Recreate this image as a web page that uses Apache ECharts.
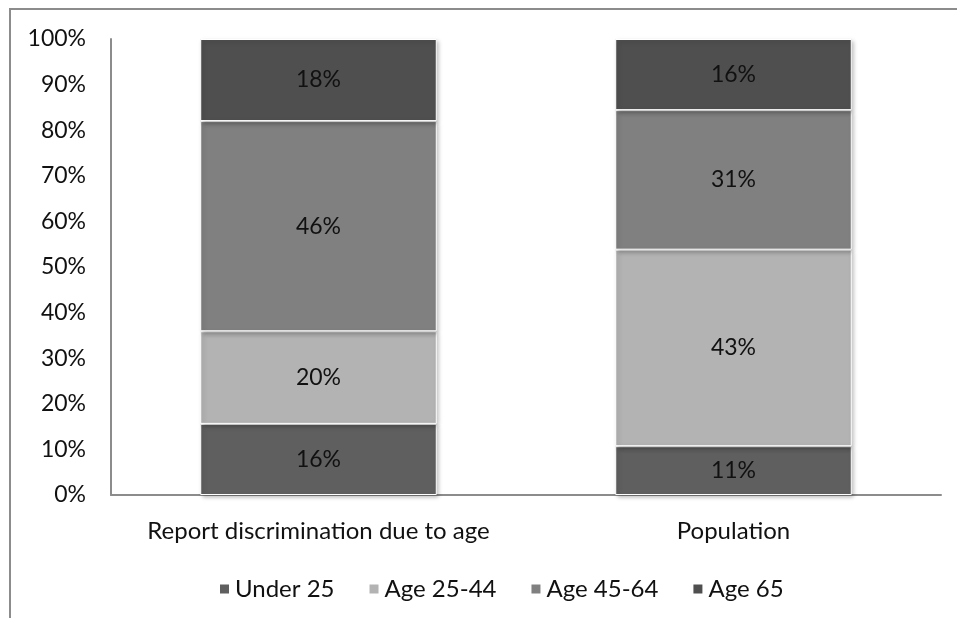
<!DOCTYPE html>
<html>
<head>
<meta charset="utf-8">
<script src="https://cdn.jsdelivr.net/npm/echarts@6/dist/echarts.min.js"></script>
<style>
  html, body { margin: 0; padding: 0; background: #fff; }
  #chart { width: 957px; height: 618px; }
</style>
</head>
<body>
<div id="chart"></div>
<script>
// Categories and series (share of each age group, %)
const categories = ['Report discrimination due to age', 'Population'];
const seriesNames = ['Under 25', 'Age 25-44', 'Age 45-64', 'Age 65'];
const under25 = [15.6, 10.7];
const age25to44 = [20.3, 43.1];
const age45to64 = [46.1, 30.6];
const age65 = [18.0, 15.6];
const yTicks = [0, 10, 20, 30, 40, 50, 60, 70, 80, 90, 100];

const colors = ['#5f5f5f', '#b3b3b3', '#808080', '#4f4f4f'];
const font = 'Lato, "Open Sans", sans-serif';
const fontSize = 23;

const chart = echarts.init(document.getElementById('chart'));

// Build one stacked series per age group
const buildSeries = () => {
  const values = [under25, age25to44, age45to64, age65];
  return seriesNames.map((name, i) => ({
    name,
    type: 'bar',
    stack: 'total',
    barWidth: '57%',
    data: values[i],
    itemStyle: {
      color: colors[i],
      borderColor: '#ffffff',
      borderWidth: 1,
      shadowBlur: 4,
      shadowOffsetX: 2,
      shadowOffsetY: 2,
      shadowColor: 'rgba(0, 0, 0, 0.25)',
    },
    label: {
      show: true,
      position: 'inside',
      color: '#111',
      fontFamily: font,
      fontSize,
      formatter: ({ value }) => `${Math.round(value)}%`,
    },
  }));
};

chart.setOption({
  animation: false,
  color: colors,
  grid: { left: 111, right: 16, top: 39, bottom: 123 },
  // Frame of the original chart area (only top and left edges visible)
  graphic: [
    {
      type: 'polyline',
      shape: { points: [[10, 618], [10, 9], [957, 9]] },
      style: { stroke: '#8c8c8c', lineWidth: 2, fill: null },
    },
  ],
  legend: {
    top: 572,
    left: 213,
    itemWidth: 11,
    itemHeight: 11,
    itemGap: 33,
    icon: 'rect',
    data: seriesNames,
    textStyle: { fontFamily: font, fontSize: 24, color: '#111' },
  },
  xAxis: {
    type: 'category',
    data: categories,
    axisLine: { lineStyle: { color: '#8c8c8c', width: 2 } },
    axisTick: { show: false },
    axisLabel: {
      interval: 0,
      hideOverlap: false,
      fontFamily: font,
      fontSize: 24,
      color: '#111',
      margin: 24,
    },
  },
  yAxis: {
    type: 'value',
    min: yTicks[0],
    max: yTicks[yTicks.length - 1],
    interval: 10,
    axisLine: { show: true, lineStyle: { color: '#8c8c8c', width: 2 } },
    axisTick: { show: false },
    splitLine: { show: false },
    axisLabel: { fontFamily: font, fontSize, color: '#111', margin: 25, formatter: '{value}%' },
  },
  series: buildSeries(),
});
</script>
</body>
</html>
